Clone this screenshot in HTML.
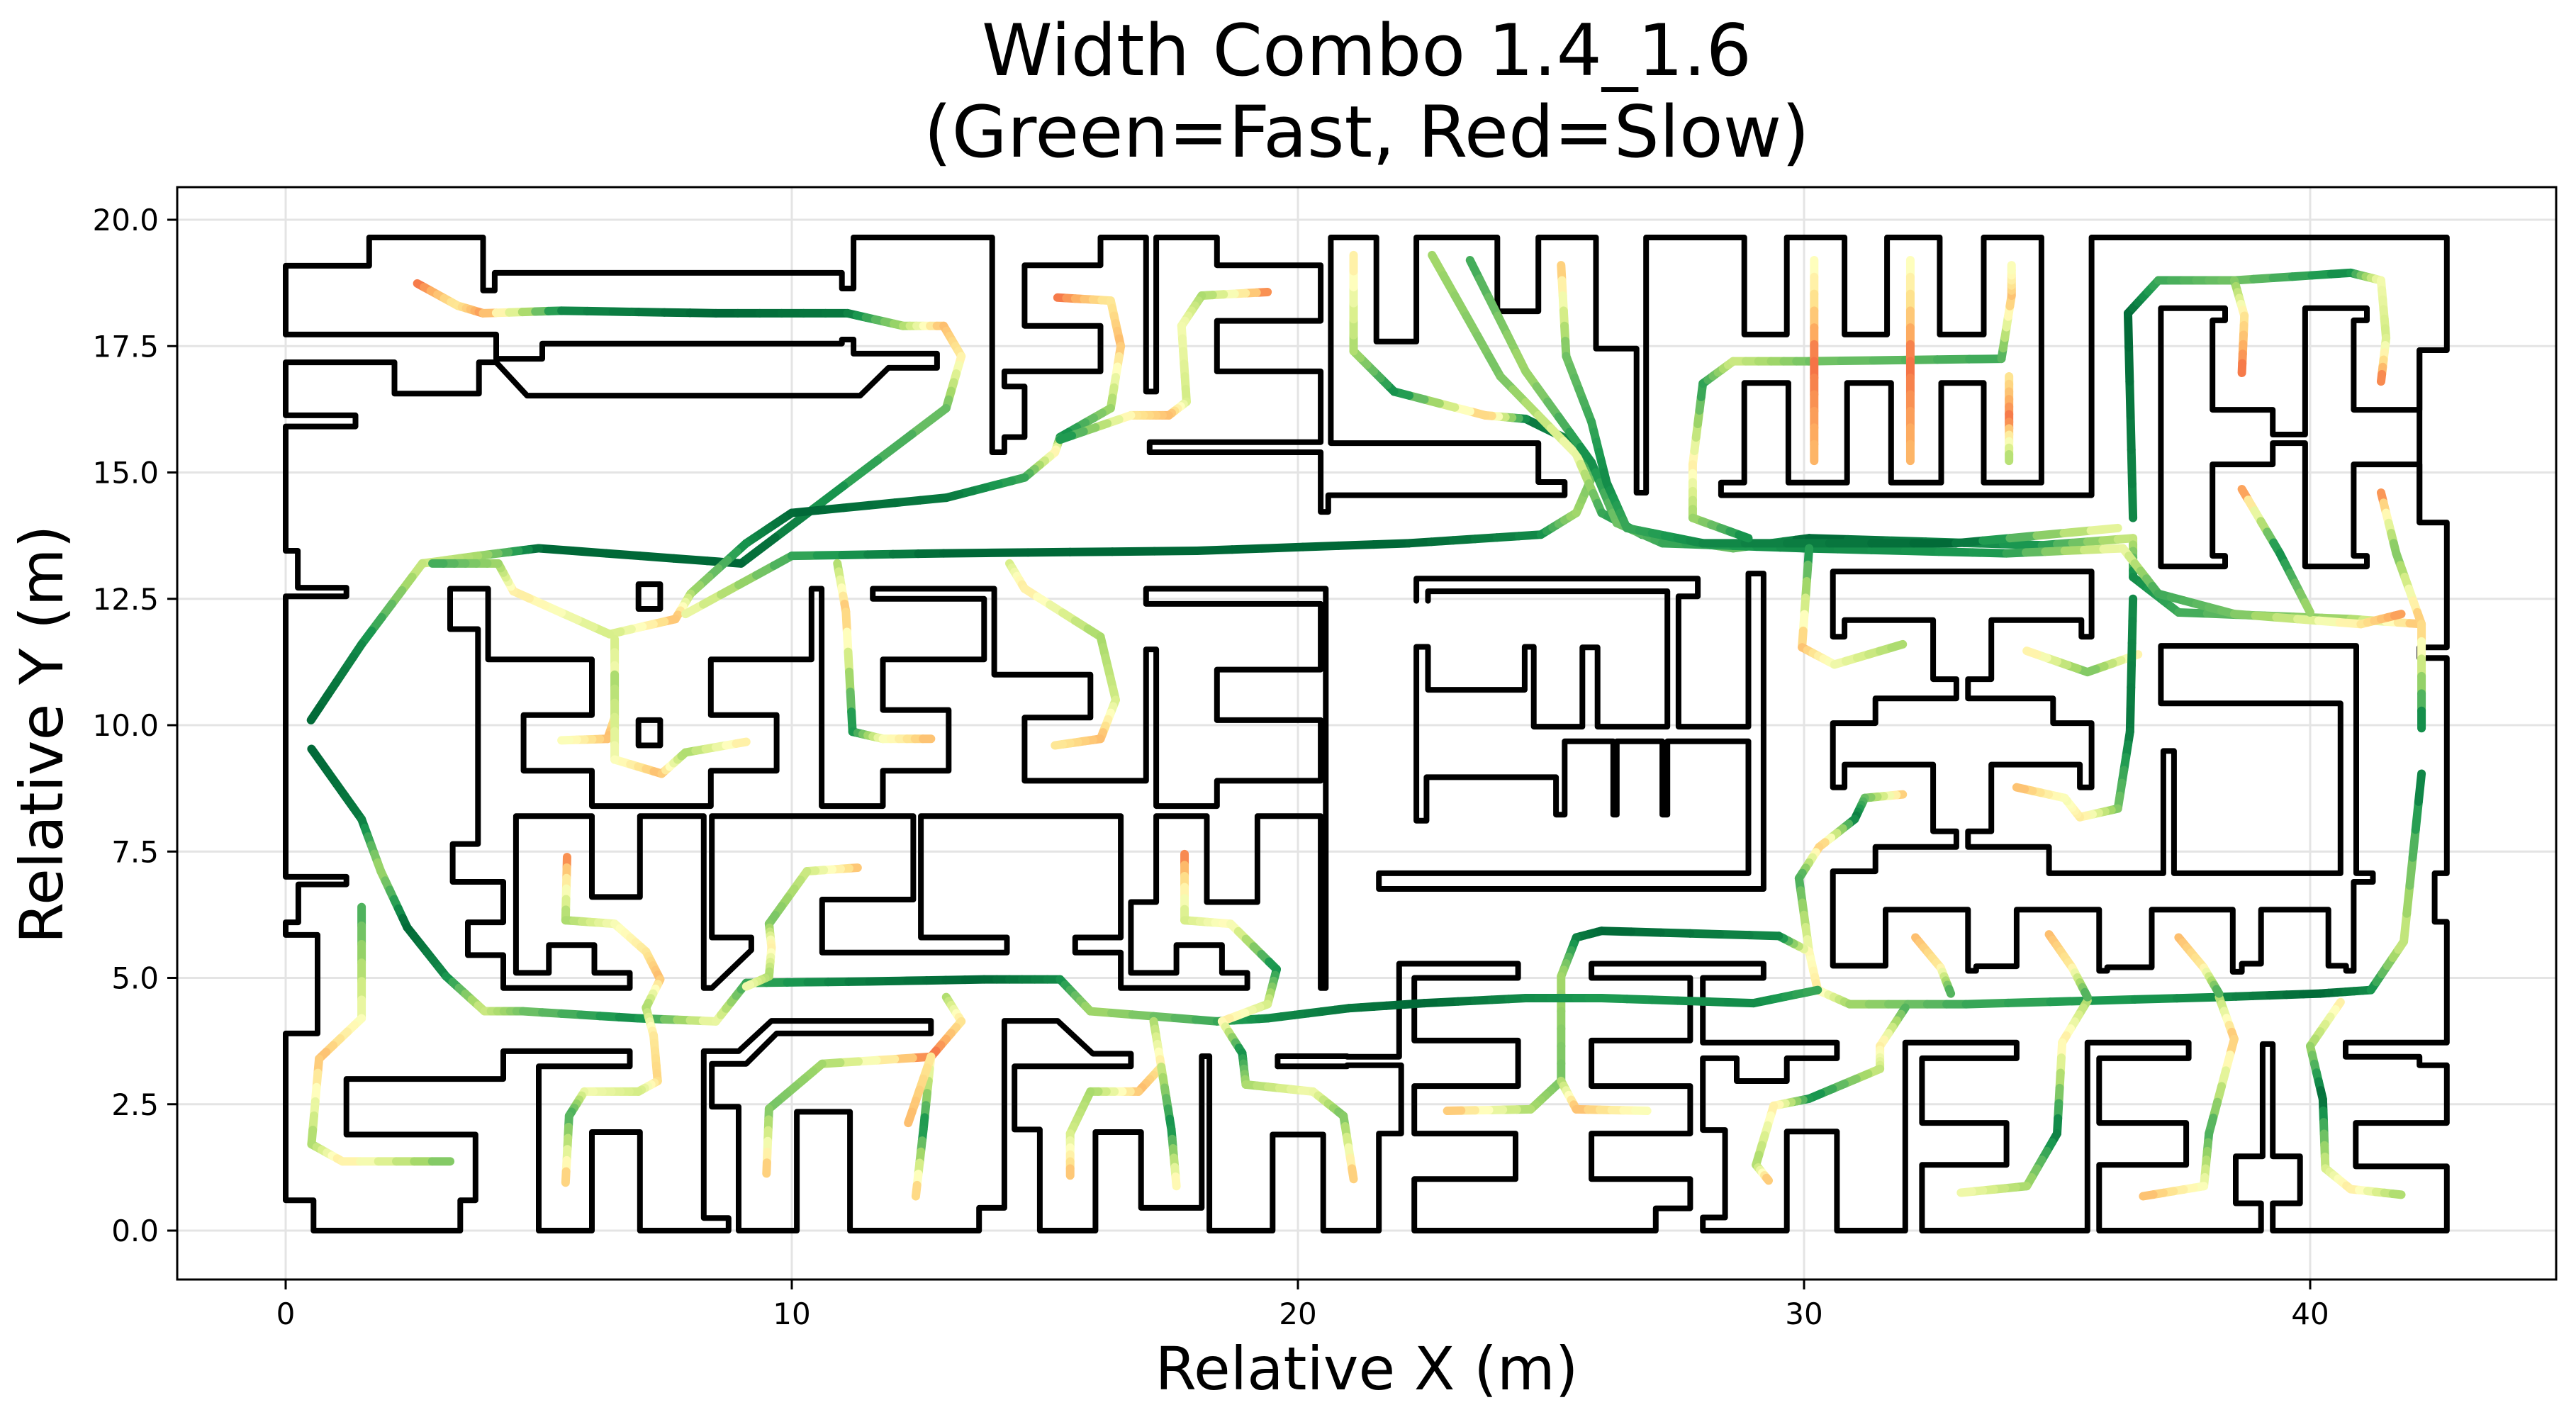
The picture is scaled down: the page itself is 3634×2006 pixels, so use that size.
<!DOCTYPE html>
<html><head><meta charset="utf-8"><title>Width Combo 1.4_1.6</title>
<style>
html,body{margin:0;padding:0;background:#fff;}
svg{display:block;font-family:"DejaVu Sans","Liberation Sans",sans-serif;}
</style></head>
<body>
<svg id="chart" width="3634" height="2006" viewBox="0 0 3634 2006" xmlns="http://www.w3.org/2000/svg">
<rect x="0" y="0" width="3634" height="2006" fill="#fff"/>
<text x="1928" y="106" font-size="101" text-anchor="middle">Width Combo 1.4_1.6</text>
<text x="1928" y="221" font-size="101" text-anchor="middle">(Green=Fast, Red=Slow)</text>
<g id="grid"></g>
<g id="walls"></g>
<g id="trajs"></g>
<rect x="250" y="264" width="3356" height="1541" fill="none" stroke="#000" stroke-width="3"/>
<g id="ticks"></g>
<text x="1928" y="1960" font-size="84" text-anchor="middle">Relative X (m)</text>
<text x="0" y="0" font-size="84" text-anchor="middle" transform="translate(88,1036) rotate(-90)">Relative Y (m)</text>
</svg>
<script>
const xTicks = [0, 10, 20, 30, 40];
const yTicks = [0, 2.5, 5, 7.5, 10, 12.5, 15, 17.5, 20];
const yTickLabels = ["0.0","2.5","5.0","7.5","10.0","12.5","15.0","17.5","20.0"];

const walls = [
 [[0,17.73],[0,19.09],[1.65,19.09],[1.65,19.65],[3.9,19.65],[3.9,18.6],[4.13,18.6],[4.13,18.95],[10.99,18.95],[10.99,18.64],[11.22,18.64],[11.22,19.65],[13.96,19.65],[13.96,15.4],[14.2,15.4],[14.2,15.7],[14.6,15.7],[14.6,16.7],[14.2,16.7],[14.2,17.0],[16.1,17.0],[16.1,17.9],[14.6,17.9],[14.6,19.1],[16.1,19.1],[16.1,19.65],[17.0,19.65],[17.0,16.6],[17.2,16.6],[17.2,19.65],[18.4,19.65],[18.4,19.1],[20.45,19.1],[20.45,18.0],[18.4,18.0],[18.4,17.0],[20.45,17.0],[20.45,15.6],[17.07,15.6],[17.07,15.4],[20.45,15.4],[20.45,14.22],[20.6,14.22],[20.6,14.55],[25.27,14.55],[25.27,14.81],[24.75,14.81],[24.75,15.58],[20.65,15.58],[20.65,19.65],[21.55,19.65],[21.55,17.59],[22.34,17.59],[22.34,19.65],[23.94,19.65],[23.94,18.19],[24.75,18.19],[24.75,19.65],[25.89,19.65],[25.89,17.45],[26.69,17.45],[26.69,14.6],[26.88,14.6],[26.88,19.65],[28.82,19.65],[28.82,17.73],[29.66,17.73],[29.66,19.65],[30.8,19.65],[30.8,17.73],[31.64,17.73],[31.64,19.65],[32.68,19.65],[32.68,17.73],[33.55,17.73],[33.55,19.65],[34.69,19.65],[34.69,14.8],[33.55,14.8],[33.55,16.77],[32.71,16.77],[32.71,14.8],[31.72,14.8],[31.72,16.77],[30.85,16.77],[30.85,14.8],[29.69,14.8],[29.69,16.77],[28.82,16.77],[28.82,14.8],[28.36,14.8],[28.36,14.55],[35.68,14.55],[35.68,19.65],[42.7,19.65],[42.7,17.42],[42.16,17.42],[42.16,14.01],[42.7,14.01],[42.7,11.54],[42.16,11.54],[42.16,11.33],[42.7,11.33],[42.7,7.07],[42.46,7.07],[42.46,6.11],[42.7,6.11],[42.7,3.72],[40.7,3.72],[40.7,3.44],[42.16,3.44],[42.16,3.27],[42.7,3.27],[42.7,2.13],[40.9,2.13],[40.9,1.27],[42.7,1.27],[42.7,0],[39.26,0],[39.26,0.54],[39.8,0.54],[39.8,1.47],[39.26,1.47],[39.26,3.69],[39.06,3.69],[39.06,1.47],[38.53,1.47],[38.53,0.54],[39.03,0.54],[39.03,0],[35.83,0],[35.83,1.3],[37.55,1.3],[37.55,2.13],[35.83,2.13],[35.83,3.41],[37.6,3.41],[37.6,3.72],[35.6,3.72],[35.6,0],[32.33,0],[32.33,1.3],[34.0,1.3],[34.0,2.13],[32.33,2.13],[32.33,3.41],[34.2,3.41],[34.2,3.72],[32.0,3.72],[32.0,0],[30.65,0],[30.65,1.96],[29.66,1.96],[29.66,0],[28.0,0],[28.0,0.26],[28.44,0.26],[28.44,1.99],[28.0,1.99],[28.0,3.41],[28.67,3.41],[28.67,2.96],[29.66,2.96],[29.66,3.41],[30.65,3.41],[30.65,3.72],[28.0,3.72],[28.0,5.0],[29.2,5.0],[29.2,5.28],[25.8,5.28],[25.8,5.0],[27.75,5.0],[27.75,3.76],[25.8,3.76],[25.8,2.86],[27.75,2.86],[27.75,1.92],[25.8,1.92],[25.8,1.02],[27.75,1.02],[27.75,0.44],[27.07,0.44],[27.07,0],[22.3,0],[22.3,1.02],[24.3,1.02],[24.3,1.92],[22.3,1.92],[22.3,2.86],[24.35,2.86],[24.35,3.76],[22.3,3.76],[22.3,5.0],[24.35,5.0],[24.35,5.28],[22.0,5.28],[22.0,3.44],[20.97,3.44]],
 [[0,17.73],[4.16,17.73],[4.16,17.25],[5.07,17.25],[5.07,17.55],[10.99,17.55],[10.99,17.63],[11.22,17.63],[11.22,17.35],[12.87,17.35],[12.87,17.07],[11.91,17.07],[11.35,16.52],[4.77,16.52],[4.16,17.18],[3.82,17.18],[3.82,16.56],[2.15,16.56],[2.15,17.18],[0,17.18],[0,16.13],[1.38,16.13],[1.38,15.91],[0,15.91],[0,13.45],[0.24,13.45],[0.24,12.72],[1.2,12.72],[1.2,12.55],[0,12.55],[0,7.0],[1.2,7.0],[1.2,6.85],[0.25,6.85],[0.25,6.1],[0,6.1],[0,5.85],[0.63,5.85],[0.63,3.9],[0,3.9],[0,0.6],[0.55,0.6],[0.55,0],[3.45,0],[3.45,0.6],[3.75,0.6],[3.75,1.9],[1.2,1.9],[1.2,3.0],[4.3,3.0],[4.3,3.55],[6.8,3.55],[6.8,3.25],[5.0,3.25],[5.0,0],[6.05,0],[6.05,1.95],[7.0,1.95],[7.0,0],[8.75,0],[8.75,0.25],[8.26,0.25],[8.26,3.55],[8.95,3.55],[9.6,4.15],[12.75,4.15],[12.75,3.9],[9.7,3.9],[9.1,3.3],[8.42,3.3],[8.42,2.45],[8.95,2.45],[8.95,0],[10.1,0],[10.1,2.35],[11.15,2.35],[11.15,0],[13.7,0],[13.7,0.45],[14.2,0.45],[14.2,4.15],[15.25,4.15],[15.95,3.5],[16.7,3.5],[16.7,3.25],[14.4,3.25],[14.4,2.0],[14.9,2.0],[14.9,0],[16.0,0],[16.0,1.95],[16.9,1.95],[16.9,0.45],[18.1,0.45],[18.1,3.45],[18.25,3.45],[18.25,0],[19.5,0],[19.5,1.9],[20.5,1.9],[20.5,0],[21.6,0],[21.6,1.92],[22.04,1.92],[22.04,3.27],[20.97,3.27]],
 [[19.6,3.45],[20.97,3.45]],[[19.6,3.25],[19.6,3.45]],[[19.6,3.25],[20.97,3.25]],
 [[3.25,12.7],[4.0,12.7],[4.0,11.3],[6.05,11.3],[6.05,10.2],[4.7,10.2],[4.7,9.1],[6.05,9.1],[6.05,8.4],[8.4,8.4],[8.4,9.1],[9.7,9.1],[9.7,10.2],[8.4,10.2],[8.4,11.3],[10.39,11.3],[10.39,12.7],[10.59,12.7],[10.59,8.4],[11.8,8.4],[11.8,9.1],[13.1,9.1],[13.1,10.3],[11.8,10.3],[11.8,11.3],[13.8,11.3],[13.8,12.5],[11.6,12.5],[11.6,12.7],[14.0,12.7],[14.0,11.0],[15.9,11.0],[15.9,10.15],[14.6,10.15],[14.6,8.9],[17.0,8.9],[17.0,11.5],[17.2,11.5],[17.2,8.4],[18.4,8.4],[18.4,8.9],[20.45,8.9],[20.45,10.1],[18.4,10.1],[18.4,11.1],[20.45,11.1],[20.45,12.4],[17.0,12.4],[17.0,12.7],[20.55,12.7],[20.55,4.8],[20.45,4.8],[20.45,8.2],[19.2,8.2],[19.2,6.5],[18.2,6.5],[18.2,8.2],[17.2,8.2],[17.2,6.5],[16.7,6.5],[16.7,5.1],[17.6,5.1],[17.6,5.65],[18.5,5.65],[18.5,5.1],[19.0,5.1],[19.0,4.8],[16.5,4.8],[16.5,5.5],[15.6,5.5],[15.6,5.8],[16.5,5.8],[16.5,8.2],[12.55,8.2],[12.55,5.8],[14.25,5.8],[14.25,5.5],[10.6,5.5],[10.6,6.55],[12.4,6.55],[12.4,8.2],[8.42,8.2],[8.42,5.8],[9.2,5.8],[9.2,5.55],[8.42,4.8],[8.26,4.8],[8.26,8.2],[7.0,8.2],[7.0,6.6],[6.05,6.6],[6.05,8.2],[4.55,8.2],[4.55,5.1],[5.2,5.1],[5.2,5.65],[6.1,5.65],[6.1,5.1],[6.8,5.1],[6.8,4.8],[4.3,4.8],[4.3,5.45],[3.6,5.45],[3.6,6.1],[4.3,6.1],[4.3,6.9],[3.3,6.9],[3.3,7.65],[3.8,7.65],[3.8,11.9],[3.25,11.9],[3.25,12.7]],
 [[6.97,12.3],[7.4,12.3],[7.4,12.79],[6.97,12.79],[6.97,12.3]],
 [[6.97,9.6],[7.4,9.6],[7.4,10.1],[6.97,10.1],[6.97,9.6]],
 [[22.34,12.46],[22.34,12.9],[27.9,12.9],[27.9,12.55],[27.52,12.55],[27.52,9.97],[28.9,9.97],[28.9,13.0],[29.2,13.0],[29.2,6.76],[21.6,6.76],[21.6,7.07],[28.9,7.07],[28.9,9.68],[27.3,9.68],[27.3,8.23],[27.2,8.23],[27.2,9.68],[26.3,9.68],[26.3,8.23],[26.23,8.23],[26.23,9.68],[25.27,9.68],[25.27,8.23],[25.1,8.23],[25.1,8.97],[22.54,8.97],[22.54,8.11],[22.34,8.11],[22.34,11.55],[22.57,11.55],[22.57,10.7],[24.48,10.7],[24.48,11.55],[24.66,11.55],[24.66,9.97],[25.62,9.97],[25.62,11.54],[25.92,11.54],[25.92,9.97],[27.3,9.97],[27.3,12.65],[22.57,12.65],[22.57,12.46]],
 [[30.57,11.75],[30.57,13.04],[35.68,13.04],[35.68,11.75],[35.48,11.75],[35.48,12.08],[33.7,12.08],[33.7,10.91],[33.24,10.91],[33.24,10.53],[34.92,10.53],[34.92,10.04],[35.68,10.04],[35.68,8.77],[35.45,8.77],[35.45,9.22],[33.7,9.22],[33.7,7.9],[33.24,7.9],[33.24,7.59],[34.84,7.59],[34.84,7.07],[37.1,7.07],[37.1,9.49],[37.31,9.49],[37.31,7.07],[40.6,7.07],[40.6,10.43],[37.05,10.43],[37.05,11.57],[40.91,11.57],[40.91,7.07],[41.24,7.07],[41.24,6.9],[40.86,6.9],[40.86,5.14],[40.71,5.14],[40.71,5.24],[40.36,5.24],[40.36,6.35],[39.03,6.35],[39.03,5.28],[38.65,5.28],[38.65,5.12],[38.47,5.12],[38.47,6.35],[36.87,6.35],[36.87,5.21],[35.99,5.21],[35.99,5.14],[35.83,5.14],[35.83,6.35],[34.2,6.35],[34.2,5.23],[33.4,5.23],[33.4,5.14],[33.24,5.14],[33.24,6.35],[31.61,6.35],[31.61,5.24],[30.57,5.24],[30.57,7.11],[31.41,7.11],[31.41,7.59],[33.01,7.59],[33.01,7.9],[32.55,7.9],[32.55,9.22],[30.8,9.22],[30.8,8.77],[30.57,8.77],[30.57,10.04],[31.41,10.04],[31.41,10.53],[33.01,10.53],[33.01,10.91],[32.55,10.91],[32.55,12.08],[30.8,12.08],[30.8,11.75],[30.57,11.75]],
 [[37.05,13.14],[37.05,18.25],[38.32,18.25],[38.32,18.01],[38.07,18.01],[38.07,16.24],[39.26,16.24],[39.26,15.75],[39.9,15.75],[39.9,18.25],[41.12,18.25],[41.12,18.01],[40.86,18.01],[40.86,16.24],[42.16,16.24],[42.16,17.42]],
 [[37.05,13.14],[38.32,13.14],[38.32,13.35],[38.07,13.35],[38.07,15.16],[39.26,15.16],[39.26,15.58],[39.9,15.58],[39.9,13.14],[41.12,13.14],[41.12,13.35],[40.86,13.35],[40.86,15.16],[42.16,15.16],[42.16,14.01]]
];

// trajectories: points [x,y] in metres, speeds normalised 0 (slow, red) .. 1 (fast, green)
const trajPoints = [
 [[2.6,18.74],[3.4,18.3],[3.9,18.15],[5.45,18.2],[8.5,18.15],[11.1,18.15],[12.2,17.9],[13.0,17.9],[13.35,17.3],[13.05,16.27],[9.0,13.2],[5.0,13.5],[3.8,13.35],[2.7,13.2],[1.5,11.6],[0.5,10.1]],
 [[15.25,18.46],[16.3,18.4],[16.5,17.5],[16.3,16.27],[15.3,15.7],[15.2,15.4],[14.6,14.9],[13.05,14.5],[10.0,14.2],[9.1,13.6],[8.0,12.6],[7.7,12.1],[6.4,11.8],[4.5,12.65],[4.2,13.2],[2.9,13.2]],
 [[19.4,18.57],[18.1,18.5],[17.7,17.9],[17.8,16.4],[17.45,16.13],[16.7,16.13],[15.3,15.65]],
 [[7.9,12.2],[10.0,13.35],[13.0,13.4],[18.0,13.45],[22.2,13.6],[24.8,13.77],[25.5,14.2],[25.85,15.0],[25.5,15.57],[24.5,16.06],[23.7,16.13],[21.9,16.6],[21.1,17.4],[21.1,19.3]],
 [[22.65,19.3],[24.0,16.9],[25.5,15.36],[26.0,14.2],[26.8,13.77],[28.6,13.5],[30.1,13.7],[34.7,13.56],[36.5,13.7],[36.5,12.93],[37.4,12.23],[40.8,12.1],[42.2,12.0]],
 [[23.4,19.2],[24.5,17.0],[25.8,15.2],[26.3,14.0],[27.2,13.6],[30.0,13.5],[34.0,13.4],[36.3,13.5],[37.0,12.6],[38.5,12.2],[41.0,12.0],[41.8,12.2]],
 [[25.2,19.1],[25.3,17.3],[25.8,16.0],[26.1,14.8],[26.5,13.9],[28.0,13.6],[33.0,13.6],[36.2,13.9]],
 [[27.8,15.16],[28.0,16.76],[28.6,17.2],[30.1,17.2],[33.9,17.25],[34.1,18.5],[34.1,19.1]],
 [[27.8,15.16],[27.8,14.1],[28.9,13.7]],
 [[30.2,19.2],[30.2,17.2],[30.2,15.23]],
 [[32.1,19.2],[32.1,17.2],[32.1,15.23]],
 [[34.05,16.9],[34.05,16.0],[34.05,15.23]],
 [[36.5,14.1],[36.4,18.15],[37.0,18.8],[38.5,18.8],[40.8,18.95],[41.4,18.8],[41.5,17.66],[41.4,16.8]],
 [[38.5,18.8],[38.7,18.1],[38.65,16.97]],
 [[38.65,14.67],[39.4,13.4],[40.0,12.23]],
 [[41.4,14.6],[41.7,13.4],[42.2,12.0],[42.2,9.94]],
 [[30.1,13.5],[29.96,11.54],[30.6,11.2],[31.95,11.6]],
 [[36.6,11.4],[35.6,11.05],[34.4,11.47]],
 [[36.5,12.5],[36.44,9.87],[36.2,8.35],[35.45,8.18],[35.15,8.56],[34.2,8.77]],
 [[31.95,8.63],[31.2,8.56],[31.0,8.14],[30.3,7.59],[29.9,6.97],[30.1,5.52],[30.27,4.76],[30.9,4.48],[33.2,4.48],[38.2,4.62],[40.2,4.69],[41.2,4.76],[41.85,5.72],[42.2,9.04]],
 [[40.6,4.52],[40.0,3.65],[40.25,2.6],[40.3,1.23],[40.8,0.82],[41.8,0.71]],
 [[38.2,4.62],[38.5,3.79],[38.0,1.92],[37.9,0.88],[36.7,0.68]],
 [[35.6,4.55],[35.1,3.72],[35.0,1.92],[34.4,0.88],[33.1,0.75]],
 [[32.0,4.41],[31.5,3.65],[31.5,3.2],[30.1,2.61],[29.4,2.47],[29.05,1.3],[29.3,0.99]],
 [[30.1,5.52],[29.5,5.83],[26.0,5.93],[25.5,5.8],[25.2,5.03],[25.2,2.96],[24.6,2.4],[22.95,2.37]],
 [[25.2,2.96],[25.5,2.4],[26.9,2.37]],
 [[32.2,5.8],[32.7,5.2],[32.9,4.69]],
 [[34.84,5.86],[35.3,5.2],[35.6,4.62]],
 [[37.4,5.8],[37.9,5.2],[38.2,4.69]],
 [[0.51,9.53],[1.5,8.14],[1.88,7.11],[2.4,6.0],[3.17,5.03],[3.93,4.34],[4.69,4.34],[6.97,4.2],[8.5,4.14],[9.1,4.9],[11.53,4.93],[13.8,4.97],[15.3,4.97],[15.9,4.34],[18.4,4.14],[19.4,4.2],[21.0,4.4],[22.5,4.5],[24.5,4.6],[26.0,4.6],[29.0,4.5],[30.27,4.76]],
 [[1.5,6.4],[1.5,4.2],[0.66,3.4],[0.51,1.71],[1.12,1.37],[3.25,1.37]],
 [[5.56,7.39],[5.53,6.14],[6.5,6.07],[7.12,5.52],[7.4,4.97],[7.12,4.41],[7.27,3.86],[7.35,2.96],[6.97,2.75],[5.9,2.75],[5.6,2.27],[5.53,0.95]],
 [[11.3,7.18],[10.3,7.11],[9.55,6.07],[9.6,5.6],[9.55,5.03],[9.1,4.83]],
 [[17.76,7.45],[17.76,6.14],[18.67,6.07],[19.58,5.17],[19.4,4.48],[18.5,4.14],[18.9,3.51],[18.97,2.89],[20.3,2.75],[20.9,2.27],[21.1,1.02]],
 [[13.05,4.62],[13.35,4.14],[12.75,3.44],[10.6,3.3],[9.55,2.41],[9.5,1.13]],
 [[12.75,3.44],[12.6,2.0],[12.45,0.68]],
 [[12.75,3.44],[12.3,2.13]],
 [[17.15,4.14],[17.3,3.24],[16.85,2.75],[15.9,2.75],[15.5,1.92],[15.5,1.09]],
 [[17.3,3.24],[17.5,2.0],[17.6,0.88]],
 [[10.9,13.2],[11.07,12.24],[11.2,9.87],[11.8,9.73],[12.75,9.73]],
 [[14.3,13.2],[14.6,12.7],[16.1,11.75],[16.4,10.5],[16.1,9.73],[15.2,9.6]],
 [[6.5,11.7],[6.5,10.15],[6.36,9.73],[5.45,9.7]],
 [[6.5,11.0],[6.5,9.32],[7.43,9.04],[7.9,9.46],[9.1,9.67]]
];
const trajSpeeds = [
 [0.1,0.3,0.15,0.9,1,0.95,0.6,0.2,0.3,0.7,1,1,0.6,0.5,0.9,1],
 [0.1,0.3,0.2,0.6,0.9,0.3,0.8,0.95,1,0.9,0.6,0.2,0.5,0.3,0.6,0.8],
 [0.1,0.6,0.4,0.5,0.2,0.3,0.9],
 [0.4,0.8,1,1,1,0.9,0.6,0.7,0.9,0.95,0.2,0.9,0.6,0.3],
 [0.6,0.7,0.4,0.8,0.9,0.7,1,0.85,0.5,0.9,0.8,0.6,0.2],
 [0.8,0.6,0.9,0.7,0.8,0.9,0.85,0.4,0.8,0.7,0.3,0.15],
 [0.2,0.7,0.8,0.9,0.8,0.9,1,0.4],
 [0.3,0.85,0.5,0.7,0.8,0.2,0.4],
 [0.3,0.6,0.9],
 [0.4,0.1,0.2],
 [0.4,0.1,0.2],
 [0.3,0.1,0.6],
 [0.9,1,0.8,0.7,0.9,0.4,0.5,0.1],
 [0.7,0.3,0.1],
 [0.1,0.9,0.6],
 [0.1,0.7,0.2,0.95],
 [0.9,0.2,0.4,0.6],
 [0.3,0.7,0.3],
 [0.9,0.95,0.7,0.3,0.4,0.2],
 [0.2,0.7,0.95,0.2,0.8,0.4,0.3,0.6,0.8,0.9,1,0.9,0.5,0.95],
 [0.3,0.6,1,0.5,0.3,0.6],
 [0.6,0.2,0.8,0.4,0.2],
 [0.6,0.3,0.95,0.6,0.4],
 [0.8,0.3,0.5,0.9,0.3,0.6,0.2],
 [0.3,0.9,1,0.95,0.6,0.7,0.6,0.2],
 [0.6,0.2,0.4],
 [0.2,0.3,0.8],
 [0.2,0.3,0.8],
 [0.2,0.3,0.8],
 [1,0.95,0.6,1,0.9,0.5,0.7,0.9,0.4,0.8,0.95,1,0.9,0.6,0.8,0.9,0.95,1,0.9,0.85,0.9,0.8],
 [0.8,0.4,0.2,0.6,0.3,0.7],
 [0.1,0.6,0.4,0.3,0.2,0.6,0.3,0.25,0.5,0.4,0.8,0.2],
 [0.2,0.5,0.7,0.3,0.6,0.4],
 [0.1,0.5,0.35,0.9,0.5,0.3,0.9,0.6,0.4,0.7,0.2],
 [0.6,0.3,0.1,0.6,0.7,0.2],
 [0.3,0.9,0.2],
 [0.3,0.2],
 [0.6,0.3,0.2,0.6,0.5,0.2],
 [0.5,0.9,0.3],
 [0.6,0.2,0.9,0.4,0.2],
 [0.5,0.3,0.6,0.5,0.2,0.3],
 [0.5,0.3,0.2,0.4],
 [0.6,0.4,0.2,0.6,0.3]
];

const NS = "http://www.w3.org/2000/svg";
const X0 = 403, XS = 71.4, Y0 = 1736, YS = 71.3;
function sx(v){ return X0 + v*XS; }
function sy(v){ return Y0 - v*YS; }

const rdylgn = [[165,0,38],[215,48,39],[244,109,67],[253,174,97],[254,224,139],[255,255,191],[217,239,139],[166,217,106],[102,189,99],[26,152,80],[0,104,55]];
function cmap(t){
  t = Math.pow(Math.max(0, Math.min(1, t)), 0.7);
  const f = t*(rdylgn.length-1), i = Math.min(rdylgn.length-2, Math.floor(f)), r = f-i;
  const a = rdylgn[i], b = rdylgn[i+1];
  return "rgb(" + [0,1,2].map(k => Math.round(a[k]+(b[k]-a[k])*r)).join(",") + ")";
}

const grid = document.getElementById("grid");
xTicks.forEach(v => {
  const l = document.createElementNS(NS, "line");
  l.setAttribute("x1", sx(v)); l.setAttribute("x2", sx(v));
  l.setAttribute("y1", 264); l.setAttribute("y2", 1805);
  l.setAttribute("stroke", "#e4e4e4"); l.setAttribute("stroke-width", 3);
  
  
  grid.appendChild(l);
});
yTicks.forEach(v => {
  const l = document.createElementNS(NS, "line");
  l.setAttribute("x1", 250); l.setAttribute("x2", 3606);
  l.setAttribute("y1", sy(v)); l.setAttribute("y2", sy(v));
  l.setAttribute("stroke", "#e4e4e4"); l.setAttribute("stroke-width", 3);
  
  
  grid.appendChild(l);
});

const wg = document.getElementById("walls");
walls.forEach(w => {
  const p = document.createElementNS(NS, "polyline");
  p.setAttribute("points", w.map(q => sx(q[0]).toFixed(1)+","+sy(q[1]).toFixed(1)).join(" "));
  p.setAttribute("fill", "none"); p.setAttribute("stroke", "#000");
  p.setAttribute("stroke-width", 8); p.setAttribute("stroke-linejoin", "round"); p.setAttribute("stroke-linecap", "round");
  
  
  wg.appendChild(p);
});

const tg = document.getElementById("trajs");
trajPoints.forEach((pts, ti) => {
  const sp = trajSpeeds[ti];
  const g = document.createElementNS(NS, "g");
  
  
  for (let i = 0; i < pts.length-1; i++) {
    const a = pts[i], b = pts[i+1];
    const n = 6;
    for (let k = 0; k < n; k++) {
      const t0 = k/n, t1 = (k+1)/n;
      const l = document.createElementNS(NS, "line");
      l.setAttribute("x1", sx(a[0]+(b[0]-a[0])*t0)); l.setAttribute("y1", sy(a[1]+(b[1]-a[1])*t0));
      l.setAttribute("x2", sx(a[0]+(b[0]-a[0])*t1)); l.setAttribute("y2", sy(a[1]+(b[1]-a[1])*t1));
      const s = sp[i] + (sp[i+1]-sp[i])*(t0+t1)/2;
      l.setAttribute("stroke", cmap(s)); l.setAttribute("stroke-width", 12); l.setAttribute("stroke-linecap", "round");
      
      
      g.appendChild(l);
    }
  }
  tg.appendChild(g);
});

const tk = document.getElementById("ticks");
xTicks.forEach(v => {
  const l = document.createElementNS(NS, "line");
  l.setAttribute("x1", sx(v)); l.setAttribute("x2", sx(v)); l.setAttribute("y1", 1805); l.setAttribute("y2", 1819);
  l.setAttribute("stroke", "#000"); l.setAttribute("stroke-width", 3);
  
  
  tk.appendChild(l);
  const t = document.createElementNS(NS, "text");
  t.setAttribute("x", sx(v)); t.setAttribute("y", 1868); t.setAttribute("font-size", 42); t.setAttribute("text-anchor", "middle");
  t.textContent = String(v);
  
  
  tk.appendChild(t);
});
yTicks.forEach((v, i) => {
  const l = document.createElementNS(NS, "line");
  l.setAttribute("x1", 236); l.setAttribute("x2", 250); l.setAttribute("y1", sy(v)); l.setAttribute("y2", sy(v));
  l.setAttribute("stroke", "#000"); l.setAttribute("stroke-width", 3);
  
  
  tk.appendChild(l);
  const t = document.createElementNS(NS, "text");
  t.setAttribute("x", 224); t.setAttribute("y", sy(v)+15); t.setAttribute("font-size", 42); t.setAttribute("text-anchor", "end");
  t.textContent = yTickLabels[i];
  
  
  tk.appendChild(t);
});
</script>
</body></html>
